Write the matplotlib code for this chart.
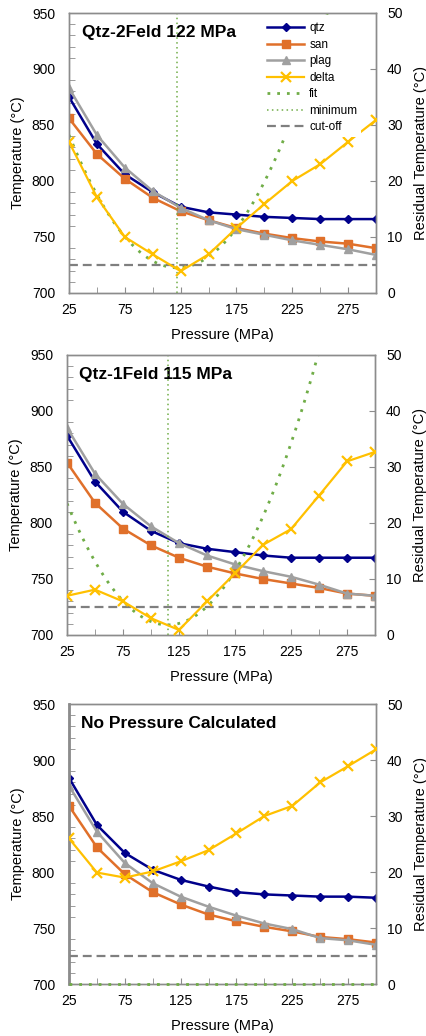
import numpy as np
import matplotlib
matplotlib.use('Agg')
import matplotlib.pyplot as plt
from matplotlib.ticker import MultipleLocator, FixedLocator
from matplotlib.lines import Line2D

plt.rcParams['font.family'] = ['Liberation Sans', 'DejaVu Sans']

pressure = [25, 50, 75, 100, 125, 150, 175, 200, 225, 250, 275, 300]

titles = ['Qtz-2Feld 122 MPa', 'Qtz-1Feld 115 MPa', 'No Pressure Calculated']

qtz = [
    [875, 833, 806, 790, 777, 772, 770, 768, 767, 766, 766, 766],
    [878, 837, 810, 793, 782, 777, 774, 771, 769, 769, 769, 769],
    [884, 842, 817, 802, 793, 787, 782, 780, 779, 778, 778, 777],
]
san = [
    [856, 824, 802, 785, 773, 765, 758, 753, 749, 746, 744, 740],
    [854, 818, 795, 780, 769, 761, 755, 750, 746, 742, 737, 735],
    [859, 822, 798, 782, 771, 762, 756, 751, 747, 742, 740, 737],
]
plag = [
    [883, 841, 812, 791, 776, 765, 757, 752, 747, 743, 739, 734],
    [885, 844, 817, 797, 782, 771, 763, 757, 752, 745, 737, 735],
    [877, 836, 808, 790, 778, 769, 761, 754, 749, 741, 739, 735],
]
delta = [
    [27.0, 17.1, 10.0, 6.9, 3.9, 6.9, 11.6, 15.9, 20.0, 23.0, 27.0, 30.9],
    [7.0, 8.1, 6.0, 3.0, 0.9, 6.0, 11.0, 16.1, 18.9, 24.9, 31.0, 32.7],
    [26.0, 19.9, 19.0, 20.1, 21.9, 23.9, 26.9, 30.0, 31.8, 36.0, 38.9, 41.9],
]
# quadratic trendline: vertex pressure, minimum residual, curvature (None = flat zero fit)
fit_vertex = [122, 115, None]
fit_min = [4.5, 1.8, 0.0]
fit_curv = [0.00252, 0.00268, 0.0]
cutoff = 5

c_qtz = '#00008B'
c_san = '#E0702A'
c_plag = '#A0A0A0'
c_delta = '#FFC000'
c_fit = '#70AD47'
c_cut = '#7F7F7F'
c_spine = '#8C8C8C'

fig = plt.figure(figsize=(4.27, 10.36), dpi=100)
W, H = 427, 1036
boxes = [(69, 13, 376, 293), (67, 355, 375, 635), (69, 704, 376, 984)]
title_pos = [(0.042, 0.932), (0.040, 0.929), (0.040, 0.932)]

for i in range(3):
    l, t, r, b = boxes[i]
    ax = fig.add_axes([l / W, 1 - b / H, (r - l) / W, (b - t) / H])
    ax2 = ax.twinx()

    ax.plot(pressure, qtz[i], color=c_qtz, lw=1.8, marker='D', ms=4.5, label='qtz')
    ax.plot(pressure, san[i], color=c_san, lw=1.8, marker='s', ms=5.5, label='san')
    ax.plot(pressure, plag[i], color=c_plag, lw=1.8, marker='^', ms=6, label='plag')

    px = np.linspace(25, 300, 300)
    if fit_vertex[i] is not None:
        fy = fit_curv[i] * (px - fit_vertex[i]) ** 2 + fit_min[i]
        ax2.axvline(fit_vertex[i], color=c_fit, lw=1.1, ls=(0, (1, 2.2)), label='minimum', zorder=1)
        ax2.plot(px, fy, color=c_fit, lw=2.0, ls=(0, (1, 2.5)), label='fit', zorder=2)
    else:
        fy = np.zeros_like(px) + fit_min[i]
        ax2.plot(px, fy, color=c_fit, lw=2.0, ls=(0, (1, 2.5)), label='fit', zorder=5, clip_on=False)
    ax2.axhline(cutoff, color=c_cut, lw=1.6, ls=(0, (4, 2.2)), label='cut-off', zorder=2)
    ax2.plot(pressure, delta[i], color=c_delta, lw=1.6, marker='x', ms=7, mew=1.6, label='delta', zorder=3)

    ax.set_xlim(25, 300)
    ax.set_ylim(700, 950)
    ax2.set_ylim(0, 50)
    ax.set_xticks([25, 75, 125, 175, 225, 275])
    ax.xaxis.set_minor_locator(FixedLocator([50, 100, 150, 200, 250]))
    ax.yaxis.set_major_locator(MultipleLocator(50))
    ax.yaxis.set_minor_locator(MultipleLocator(10))
    ax2.yaxis.set_major_locator(MultipleLocator(10))

    ax.tick_params(axis='both', which='both', direction='in', colors=c_spine, labelcolor='black',
                   labelsize=10, length=4)
    ax.tick_params(axis='y', which='major', length=0, pad=10)
    ax.tick_params(axis='x', which='both', length=4, pad=7)
    ax2.tick_params(axis='y', direction='in', colors=c_spine, labelcolor='black', labelsize=10,
                    length=4, pad=8)

    for a in (ax, ax2):
        for s in a.spines.values():
            s.set_color(c_spine)
            s.set_linewidth(1.0)
    if i == 2:
        ax.spines['left'].set_linewidth(2.0)

    ax.set_xlabel('Pressure (MPa)', fontsize=10.5, labelpad=8)
    ax.set_ylabel('Temperature (°C)', fontsize=10.5, labelpad=5)
    ax2.set_ylabel('Residual Temperature (°C)', fontsize=10.5, labelpad=8)

    ax.text(title_pos[i][0], title_pos[i][1], titles[i], transform=ax.transAxes,
            fontsize=12.5, fontweight='bold', va='center', ha='left')

    if i == 0:
        handles = [
            Line2D([], [], color=c_qtz, lw=1.8, marker='D', ms=4.5),
            Line2D([], [], color=c_san, lw=1.8, marker='s', ms=5.5),
            Line2D([], [], color=c_plag, lw=1.8, marker='^', ms=6),
            Line2D([], [], color=c_delta, lw=1.6, marker='x', ms=7, mew=1.6),
            Line2D([], [], color=c_fit, lw=2.0, ls=(0, (1, 2.5))),
            Line2D([], [], color=c_fit, lw=1.1, ls=(0, (1, 2.2))),
            Line2D([], [], color=c_cut, lw=1.6, ls=(0, (4, 2.2))),
        ]
        labels = ['qtz', 'san', 'plag', 'delta', 'fit', 'minimum', 'cut-off']
        leg = ax2.legend(handles, labels, loc='upper right', bbox_to_anchor=(0.97, 1.0),
                         fontsize=8.5, frameon=True, fancybox=False, handlelength=3.2,
                         handletextpad=0.4, labelspacing=0.38, borderpad=0.3)
        leg.get_frame().set_facecolor('white')
        leg.get_frame().set_edgecolor('none')
        leg.get_frame().set_alpha(1)
        leg.set_zorder(10)

fig.savefig('out.png', dpi=100)
